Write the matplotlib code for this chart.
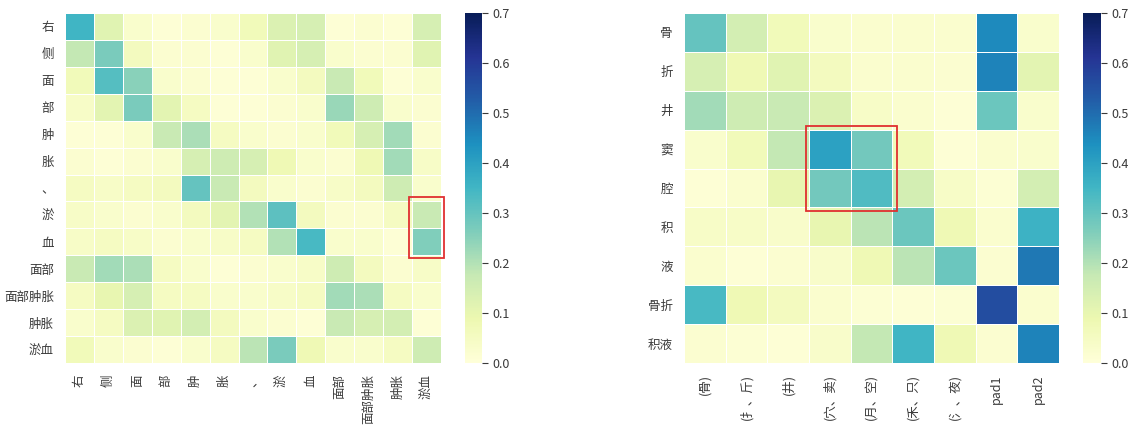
import numpy as np
import matplotlib
matplotlib.use("Agg")
import matplotlib.pyplot as plt
from matplotlib.patches import Rectangle

plt.rcParams['font.family'] = ['Noto Sans CJK SC', 'DejaVu Sans']

# 左图：字符 / 词 注意力
left_rows = ["右", "侧", "面", "部", "肿", "胀", "、", "淤", "血", "面部", "面部肿胀", "肿胀", "淤血"]
left_cols = ["右", "侧", "面", "部", "肿", "胀", "、", "淤", "血", "面部", "面部肿胀", "肿胀", "淤血"]
left_vals = [
    [0.35, 0.12, 0.03, 0.01, 0.02, 0.03, 0.07, 0.13, 0.14, 0.01, 0.02, 0.01, 0.14],
    [0.18, 0.27, 0.06, 0.02, 0.02, 0.01, 0.03, 0.12, 0.14, 0.03, 0.02, 0.02, 0.12],
    [0.07, 0.32, 0.25, 0.03, 0.02, 0.01, 0.01, 0.03, 0.06, 0.17, 0.07, 0.01, 0.03],
    [0.04, 0.11, 0.27, 0.11, 0.05, 0.01, 0.01, 0.02, 0.03, 0.23, 0.16, 0.03, 0.02],
    [0.01, 0.01, 0.03, 0.17, 0.21, 0.05, 0.03, 0.02, 0.03, 0.07, 0.14, 0.22, 0.02],
    [0.02, 0.01, 0.02, 0.03, 0.14, 0.16, 0.14, 0.08, 0.03, 0.02, 0.08, 0.22, 0.04],
    [0.05, 0.04, 0.05, 0.06, 0.30, 0.17, 0.06, 0.03, 0.02, 0.04, 0.06, 0.16, 0.03],
    [0.04, 0.03, 0.02, 0.03, 0.06, 0.11, 0.20, 0.31, 0.06, 0.02, 0.02, 0.05, 0.17],
    [0.04, 0.05, 0.04, 0.02, 0.03, 0.04, 0.05, 0.20, 0.34, 0.03, 0.03, 0.01, 0.26],
    [0.17, 0.22, 0.21, 0.05, 0.03, 0.01, 0.02, 0.03, 0.04, 0.16, 0.06, 0.02, 0.04],
    [0.05, 0.10, 0.14, 0.05, 0.05, 0.03, 0.03, 0.04, 0.05, 0.22, 0.21, 0.05, 0.03],
    [0.03, 0.05, 0.13, 0.12, 0.15, 0.06, 0.03, 0.02, 0.01, 0.17, 0.14, 0.15, 0.01],
    [0.07, 0.03, 0.02, 0.01, 0.03, 0.05, 0.19, 0.27, 0.08, 0.03, 0.03, 0.05, 0.16],
]

# 右图：字符 / 部首 注意力
right_rows = ["骨", "折", "井", "窦", "腔", "积", "液", "骨折", "积液"]
right_cols = ["(骨)", "(扌、斤)", "(井)", "(穴、卖)", "(月、空)", "(禾、只)", "(氵、夜)", "pad1", "pad2"]
right_vals = [
    [0.30, 0.15, 0.07, 0.03, 0.025, 0.025, 0.025, 0.45, 0.03],
    [0.14, 0.08, 0.12, 0.06, 0.025, 0.025, 0.02, 0.46, 0.11],
    [0.22, 0.16, 0.17, 0.13, 0.04, 0.025, 0.01, 0.29, 0.03],
    [0.03, 0.07, 0.18, 0.40, 0.28, 0.07, 0.01, 0.025, 0.03],
    [0.01, 0.025, 0.10, 0.28, 0.33, 0.15, 0.04, 0.015, 0.15],
    [0.04, 0.04, 0.035, 0.10, 0.19, 0.29, 0.08, 0.025, 0.36],
    [0.025, 0.01, 0.02, 0.035, 0.08, 0.19, 0.29, 0.02, 0.48],
    [0.34, 0.08, 0.06, 0.025, 0.015, 0.01, 0.015, 0.56, 0.025],
    [0.02, 0.015, 0.01, 0.035, 0.18, 0.35, 0.08, 0.02, 0.46],
]

fig = plt.figure(figsize=(11.34, 4.25), dpi=100)


def draw(ax_pos, cax_pos, vals, rows, cols, box):
    ax = fig.add_axes(ax_pos)
    cax = fig.add_axes(cax_pos)
    data = np.array(vals)
    mesh = ax.pcolormesh(data, cmap="YlGnBu", vmin=0, vmax=0.7,
                         edgecolors="white", linewidth=0.5)
    ax.set_xlim(0, data.shape[1])
    ax.set_ylim(data.shape[0], 0)
    ax.set_xticks(np.arange(len(cols)) + 0.5)
    ax.set_xticklabels(cols, rotation=90, fontsize=9, color="#3a3a3a")
    ax.set_yticks(np.arange(len(rows)) + 0.5)
    ax.set_yticklabels(rows, fontsize=9, color="#3a3a3a")
    ax.tick_params(length=0, pad=8)
    for s in ax.spines.values():
        s.set_visible(False)
    # 红框
    x0, y0, x1, y1 = box
    ax.add_patch(Rectangle((x0, y0), x1 - x0, y1 - y0, fill=False,
                           edgecolor="#e03030", linewidth=1.3, clip_on=False))
    cb = fig.colorbar(mesh, cax=cax, ticks=np.arange(0, 0.71, 0.1))
    cb.outline.set_visible(False)
    cb.ax.tick_params(labelsize=9, colors="#3a3a3a", length=4)
    cb.ax.set_yticklabels(["%.1f" % t for t in np.arange(0, 0.71, 0.1)])
    return ax


draw([0.0573, 0.1459, 0.3316, 0.8235], [0.410, 0.1459, 0.015, 0.8235],
     left_vals, left_rows, left_cols, (11.88, 6.85, 13.1, 9.1))
draw([0.6032, 0.1459, 0.3307, 0.8235], [0.955, 0.1459, 0.016, 0.8235],
     right_vals, right_rows, right_cols, (2.92, 2.9, 5.1, 5.08))

plt.savefig("out.png", dpi=100)
